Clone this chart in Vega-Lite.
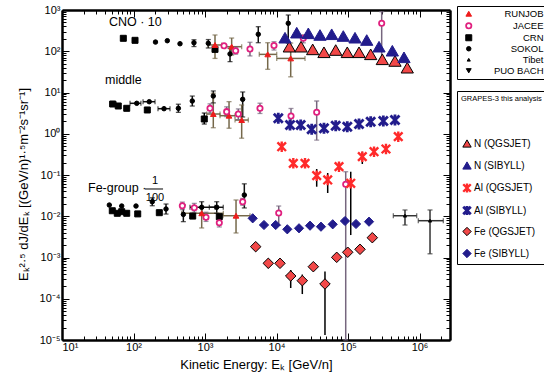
{
  "$schema": "https://vega.github.io/schema/vega-lite/v6.json",
  "width": 388,
  "height": 330,
  "autosize": {"type": "none"},
  "padding": {"left": 62, "top": 10, "right": 94, "bottom": 37},
  "background": "white",
  "config": {
    "view": {"stroke": null},
    "axis": {
      "grid": false,
      "domainColor": "black",
      "domainWidth": 2.5,
      "tickColor": "black",
      "tickWidth": 1,
      "labelColor": "black",
      "labelFont": "Liberation Sans",
      "labelFontSize": 11,
      "labelOverlap": false,
      "titleFont": "Liberation Sans",
      "titleFontWeight": "normal",
      "titleColor": "black",
      "titleFontSize": 13
    },
    "legend": {
      "labelFont": "Liberation Sans",
      "labelColor": "black",
      "titleFont": "Liberation Sans",
      "titleColor": "black",
      "titleFontWeight": "normal",
      "strokeColor": "black",
      "fillColor": "white"
    }
  },
  "datasets": {
    "pts": [
      {"src": "CRN", "kind": "lit", "x": 72, "y": 206},
      {"src": "CRN", "kind": "lit", "x": 105, "y": 184},
      {"src": "CRN", "kind": "lit", "x": 1380, "y": 111},
      {"src": "SOKOL", "kind": "lit", "x": 203, "y": 167},
      {"src": "SOKOL", "kind": "lit", "x": 297, "y": 180},
      {"src": "SOKOL", "kind": "lit", "x": 447, "y": 152},
      {"src": "SOKOL", "kind": "lit", "x": 701, "y": 161, "ylo": 130, "yhi": 190},
      {"src": "SOKOL", "kind": "lit", "x": 1112, "y": 156, "ylo": 120, "yhi": 192},
      {"src": "SOKOL", "kind": "lit", "x": 2239, "y": 86, "ylo": 56, "yhi": 118},
      {"src": "SOKOL", "kind": "lit", "x": 5560, "y": 258, "ylo": 161, "yhi": 394},
      {"src": "SOKOL", "kind": "lit", "x": 14600, "y": 476, "ylo": 158, "yhi": 757},
      {"src": "RUNJOB", "kind": "lit", "x": 1380, "y": 142, "ylo": 67, "yhi": 248, "xlo": 1101, "xhi": 1714},
      {"src": "RUNJOB", "kind": "lit", "x": 2360, "y": 129, "ylo": 81, "yhi": 209, "xlo": 1905, "xhi": 3258},
      {"src": "RUNJOB", "kind": "lit", "x": 7534, "y": 84, "ylo": 36.5, "yhi": 161, "xlo": 5741, "xhi": 10070},
      {"src": "RUNJOB", "kind": "lit", "x": 15800, "y": 67, "ylo": 24, "yhi": 158, "xlo": 10070, "xhi": 25060},
      {"src": "JACEE", "kind": "lit", "x": 1845, "y": 136},
      {"src": "JACEE", "kind": "lit", "x": 2685, "y": 103, "ylo": 85, "yhi": 125},
      {"src": "JACEE", "kind": "lit", "x": 4256, "y": 113, "ylo": 77, "yhi": 165},
      {"src": "JACEE", "kind": "lit", "x": 9226, "y": 138, "ylo": 107, "yhi": 170},
      {"src": "JACEE", "kind": "lit", "x": 23700, "y": 206, "ylo": 160, "yhi": 250},
      {"src": "JACEE", "kind": "lit", "x": 295800, "y": 476, "ylo": 56, "yhi": 910},

      {"src": "CRN", "kind": "lit", "x": 51.2, "y": 5.26, "xlo": 46.9, "xhi": 56.9},
      {"src": "CRN", "kind": "lit", "x": 61.2, "y": 4.71},
      {"src": "CRN", "kind": "lit", "x": 80.4, "y": 4.14},
      {"src": "CRN", "kind": "lit", "x": 156, "y": 3.77},
      {"src": "CRN", "kind": "lit", "x": 977, "y": 2.28, "ylo": 1.72, "yhi": 3.18},
      {"src": "SOKOL", "kind": "lit", "x": 111, "y": 5.47, "xlo": 89.4, "xhi": 127},
      {"src": "SOKOL", "kind": "lit", "x": 166, "y": 5.98, "xlo": 136, "xhi": 200},
      {"src": "SOKOL", "kind": "lit", "x": 267, "y": 4.05, "xlo": 220, "xhi": 324},
      {"src": "SOKOL", "kind": "lit", "x": 424, "y": 4.14, "ylo": 3.3, "yhi": 5.2},
      {"src": "SOKOL", "kind": "lit", "x": 664, "y": 6.22, "ylo": 4.7, "yhi": 8.2},
      {"src": "SOKOL", "kind": "lit", "x": 1306, "y": 8.22, "ylo": 5.6, "yhi": 10.9},
      {"src": "SOKOL", "kind": "lit", "x": 3365, "y": 6.84, "ylo": 2.55, "yhi": 10.3},
      {"src": "RUNJOB", "kind": "lit", "x": 1306, "y": 3.01, "ylo": 1.4, "yhi": 9.6, "xlo": 1057, "xhi": 1622},
      {"src": "RUNJOB", "kind": "lit", "x": 2168, "y": 2.74, "ylo": 1.36, "yhi": 6.0, "xlo": 1622, "xhi": 2630},
      {"src": "RUNJOB", "kind": "lit", "x": 3258, "y": 2.15, "ylo": 0.78, "yhi": 4.98, "xlo": 2630, "xhi": 4036},
      {"src": "JACEE", "kind": "lit", "x": 1175, "y": 4.14, "ylo": 3.2, "yhi": 5.3},
      {"src": "JACEE", "kind": "lit", "x": 2009, "y": 3.43, "ylo": 2.6, "yhi": 4.5},
      {"src": "JACEE", "kind": "lit", "x": 2924, "y": 3.01, "ylo": 2.2, "yhi": 4.0},
      {"src": "JACEE", "kind": "lit", "x": 5875, "y": 4.14, "ylo": 3.1, "yhi": 5.5},
      {"src": "JACEE", "kind": "lit", "x": 15960, "y": 2.69, "ylo": 1.9, "yhi": 4.1},
      {"src": "JACEE", "kind": "lit", "x": 36480, "y": 3.31, "ylo": 0.7, "yhi": 6.22},
      {"src": "JACEE", "kind": "lit", "x": 92900, "y": 0.0596, "ylo": 0.00001, "yhi": 0.12},

      {"src": "SOKOL", "kind": "lit", "x": 45.9, "y": 0.0187},
      {"src": "SOKOL", "kind": "lit", "x": 68.4, "y": 0.0177},
      {"src": "SOKOL", "kind": "lit", "x": 108.4, "y": 0.0177},
      {"src": "SOKOL", "kind": "lit", "x": 183, "y": 0.0225, "ylo": 0.018, "yhi": 0.028},
      {"src": "SOKOL", "kind": "lit", "x": 285, "y": 0.015, "ylo": 0.0113, "yhi": 0.0198},
      {"src": "SOKOL", "kind": "lit", "x": 498, "y": 0.0111, "ylo": 0.0074, "yhi": 0.0187},
      {"src": "SOKOL", "kind": "lit", "x": 899, "y": 0.0165, "ylo": 0.0118, "yhi": 0.0225, "xlo": 617, "xhi": 1380},
      {"src": "SOKOL", "kind": "lit", "x": 1459, "y": 0.0165, "ylo": 0.0118, "yhi": 0.0225, "xlo": 1150, "xhi": 1800},
      {"src": "SOKOL", "kind": "lit", "x": 3548, "y": 0.0327, "ylo": 0.0159, "yhi": 0.0611},
      {"src": "CRN", "kind": "lit", "x": 50.5, "y": 0.0136},
      {"src": "CRN", "kind": "lit", "x": 59.3, "y": 0.0118},
      {"src": "CRN", "kind": "lit", "x": 68.4, "y": 0.0129},
      {"src": "CRN", "kind": "lit", "x": 80.4, "y": 0.0118},
      {"src": "CRN", "kind": "lit", "x": 114.6, "y": 0.0114},
      {"src": "CRN", "kind": "lit", "x": 229.6, "y": 0.0122},
      {"src": "CRN", "kind": "lit", "x": 673, "y": 0.0101},
      {"src": "CRN", "kind": "lit", "x": 1585, "y": 0.00975},
      {"src": "JACEE", "kind": "lit", "x": 482, "y": 0.018, "ylo": 0.0145, "yhi": 0.022},
      {"src": "JACEE", "kind": "lit", "x": 708, "y": 0.0161, "ylo": 0.0125, "yhi": 0.0205},
      {"src": "JACEE", "kind": "lit", "x": 1033, "y": 0.00944, "ylo": 0.0075, "yhi": 0.0125},
      {"src": "JACEE", "kind": "lit", "x": 1585, "y": 0.00698, "ylo": 0.0055, "yhi": 0.0088},
      {"src": "JACEE", "kind": "lit", "x": 3365, "y": 0.0225, "ylo": 0.0185, "yhi": 0.027},
      {"src": "JACEE", "kind": "lit", "x": 10740, "y": 0.012, "ylo": 0.00603, "yhi": 0.0177},
      {"src": "RUNJOB", "kind": "lit", "x": 899, "y": 0.0118, "ylo": 0.0052, "yhi": 0.0167, "xlo": 472, "xhi": 1804},
      {"src": "RUNJOB", "kind": "lit", "x": 2716, "y": 0.0103, "ylo": 0.00393, "yhi": 0.0248, "xlo": 1786, "xhi": 4256},
      {"src": "Tibet", "kind": "lit", "x": 626600, "y": 0.0103, "ylo": 0.00613, "yhi": 0.0142, "xlo": 430500, "xhi": 914100},
      {"src": "Tibet", "kind": "lit", "x": 1403000, "y": 0.0078, "ylo": 0.00123, "yhi": 0.0142, "xlo": 961600, "xhi": 2153000},

      {"src": "N (QGSJET)", "kind": "g3", "x": 15100, "y": 129},
      {"src": "N (QGSJET)", "kind": "g3", "x": 22030, "y": 129},
      {"src": "N (QGSJET)", "kind": "g3", "x": 32060, "y": 111},
      {"src": "N (QGSJET)", "kind": "g3", "x": 46130, "y": 94.4},
      {"src": "N (QGSJET)", "kind": "g3", "x": 67300, "y": 107},
      {"src": "N (QGSJET)", "kind": "g3", "x": 97700, "y": 94.4},
      {"src": "N (QGSJET)", "kind": "g3", "x": 142600, "y": 94.4},
      {"src": "N (QGSJET)", "kind": "g3", "x": 207600, "y": 84.3},
      {"src": "N (QGSJET)", "kind": "g3", "x": 302000, "y": 63.8},
      {"src": "N (QGSJET)", "kind": "g3", "x": 454000, "y": 58.1},
      {"src": "N (QGSJET)", "kind": "g3", "x": 674500, "y": 39.9, "ylo": 31.4, "yhi": 39.9},
      {"src": "N (SIBYLL)", "kind": "g3", "x": 13150, "y": 213},
      {"src": "N (SIBYLL)", "kind": "g3", "x": 19190, "y": 282},
      {"src": "N (SIBYLL)", "kind": "g3", "x": 27860, "y": 272},
      {"src": "N (SIBYLL)", "kind": "g3", "x": 40550, "y": 248},
      {"src": "N (SIBYLL)", "kind": "g3", "x": 59160, "y": 258},
      {"src": "N (SIBYLL)", "kind": "g3", "x": 85900, "y": 234},
      {"src": "N (SIBYLL)", "kind": "g3", "x": 125300, "y": 213},
      {"src": "N (SIBYLL)", "kind": "g3", "x": 182800, "y": 187},
      {"src": "N (SIBYLL)", "kind": "g3", "x": 271600, "y": 129},
      {"src": "N (SIBYLL)", "kind": "g3", "x": 416900, "y": 103},
      {"src": "N (SIBYLL)", "kind": "g3", "x": 606700, "y": 71.3},
      {"src": "Al (SIBYLL)", "kind": "g3", "x": 10590, "y": 2.37},
      {"src": "Al (SIBYLL)", "kind": "g3", "x": 15450, "y": 1.63},
      {"src": "Al (SIBYLL)", "kind": "g3", "x": 21780, "y": 1.63},
      {"src": "Al (SIBYLL)", "kind": "g3", "x": 31050, "y": 1.28},
      {"src": "Al (SIBYLL)", "kind": "g3", "x": 46130, "y": 1.36},
      {"src": "Al (SIBYLL)", "kind": "g3", "x": 67300, "y": 1.57},
      {"src": "Al (SIBYLL)", "kind": "g3", "x": 97700, "y": 1.48},
      {"src": "Al (SIBYLL)", "kind": "g3", "x": 142600, "y": 1.72},
      {"src": "Al (SIBYLL)", "kind": "g3", "x": 207600, "y": 1.96},
      {"src": "Al (SIBYLL)", "kind": "g3", "x": 311900, "y": 2.04},
      {"src": "Al (SIBYLL)", "kind": "g3", "x": 454000, "y": 2.15},
      {"src": "Al (QGSJET)", "kind": "g3", "x": 11830, "y": 0.485},
      {"src": "Al (QGSJET)", "kind": "g3", "x": 17180, "y": 0.192},
      {"src": "Al (QGSJET)", "kind": "g3", "x": 25060, "y": 0.192},
      {"src": "Al (QGSJET)", "kind": "g3", "x": 36480, "y": 0.0962, "ylo": 0.052, "yhi": 0.14},
      {"src": "Al (QGSJET)", "kind": "g3", "x": 52000, "y": 0.0757, "ylo": 0.0366, "yhi": 0.112},
      {"src": "Al (QGSJET)", "kind": "g3", "x": 74820, "y": 0.159, "ylo": 0.13, "yhi": 0.2},
      {"src": "Al (QGSJET)", "kind": "g3", "x": 109200, "y": 0.063, "ylo": 0.0035, "yhi": 0.12},
      {"src": "Al (QGSJET)", "kind": "g3", "x": 158500, "y": 0.278, "ylo": 0.185, "yhi": 0.367},
      {"src": "Al (QGSJET)", "kind": "g3", "x": 231200, "y": 0.367},
      {"src": "Al (QGSJET)", "kind": "g3", "x": 339600, "y": 0.427},
      {"src": "Al (QGSJET)", "kind": "g3", "x": 504700, "y": 0.849},
      {"src": "Fe (SIBYLL)", "kind": "g3", "x": 4645, "y": 0.00891},
      {"src": "Fe (SIBYLL)", "kind": "g3", "x": 6683, "y": 0.00614},
      {"src": "Fe (SIBYLL)", "kind": "g3", "x": 9750, "y": 0.00614},
      {"src": "Fe (SIBYLL)", "kind": "g3", "x": 14160, "y": 0.00483},
      {"src": "Fe (SIBYLL)", "kind": "g3", "x": 20650, "y": 0.00511},
      {"src": "Fe (SIBYLL)", "kind": "g3", "x": 29440, "y": 0.0059},
      {"src": "Fe (SIBYLL)", "kind": "g3", "x": 41880, "y": 0.00558},
      {"src": "Fe (SIBYLL)", "kind": "g3", "x": 61100, "y": 0.00638},
      {"src": "Fe (SIBYLL)", "kind": "g3", "x": 90780, "y": 0.00767},
      {"src": "Fe (SIBYLL)", "kind": "g3", "x": 129400, "y": 0.00649},
      {"src": "Fe (SIBYLL)", "kind": "g3", "x": 196800, "y": 0.00738},
      {"src": "Fe (QGSJET)", "kind": "g3", "x": 5117, "y": 0.00183},
      {"src": "Fe (QGSJET)", "kind": "g3", "x": 7674, "y": 0.000723, "ylo": 0.00055, "yhi": 0.000723},
      {"src": "Fe (QGSJET)", "kind": "g3", "x": 11190, "y": 0.000723},
      {"src": "Fe (QGSJET)", "kind": "g3", "x": 15800, "y": 0.000356, "ylo": 0.000182, "yhi": 0.000498},
      {"src": "Fe (QGSJET)", "kind": "g3", "x": 22960, "y": 0.000274, "ylo": 0.00013, "yhi": 0.000387},
      {"src": "Fe (QGSJET)", "kind": "g3", "x": 32730, "y": 0.000598},
      {"src": "Fe (QGSJET)", "kind": "g3", "x": 47640, "y": 0.000228, "ylo": 0.0000132, "yhi": 0.00046},
      {"src": "Fe (QGSJET)", "kind": "g3", "x": 69500, "y": 0.00101, "ylo": 0.0008, "yhi": 0.00101},
      {"src": "Fe (QGSJET)", "kind": "g3", "x": 99100, "y": 0.00134},
      {"src": "Fe (QGSJET)", "kind": "g3", "x": 147200, "y": 0.00158},
      {"src": "Fe (QGSJET)", "kind": "g3", "x": 218800, "y": 0.00302}
    ],
    "annL": [
      {"t": "CNO · 10", "x": 45.4, "y": 520},
      {"t": "middle", "x": 39.9, "y": 20.1},
      {"t": "Fe-group ·", "x": 23.1, "y": 0.0492}
    ],
    "annC": [
      {"t": "1", "x": 200, "y": 0.0716},
      {"t": "100", "x": 200, "y": 0.0277}
    ],
    "frac": [
      {"x": 145, "x2": 259, "y": 0.0458}
    ]
  },
  "layer": [
    {
      "data": {"name": "pts"},
      "transform": [{"filter": "isValid(datum.ylo)"}],
      "mark": {"type": "rule", "strokeWidth": 1.5},
      "encoding": {
        "x": {
          "field": "x", "type": "quantitative",
          "scale": {"type": "log", "domain": [10, 2670000], "nice": false},
          "axis": {
            "orient": "bottom",
            "title": "Kinetic Energy: Eₖ [GeV/n]",
            "titlePadding": 3,
            "values": [10,20,30,40,50,60,70,80,90,100,200,300,400,500,600,700,800,900,1000,2000,3000,4000,5000,6000,7000,8000,9000,10000,20000,30000,40000,50000,60000,70000,80000,90000,100000,200000,300000,400000,500000,600000,700000,800000,900000,1000000,2000000],
            "labelExpr": "abs(log(datum.value)/LN10 - round(log(datum.value)/LN10)) < 0.01 ? '10' + ['⁻⁵','⁻⁴','⁻³','⁻²','⁻¹','⁰','¹','²','³','⁴','⁵','⁶'][round(log(datum.value)/LN10)+5] : ''",
            "tickSize": {"condition": {"test": "abs(log(datum.value)/LN10 - round(log(datum.value)/LN10)) < 0.01", "value": -7}, "value": -4},
            "labelPadding": 8
          }
        },
        "y": {
          "field": "ylo", "type": "quantitative",
          "scale": {"type": "log", "domain": [0.00001, 1000], "nice": false},
          "axis": {
            "orient": "left",
            "title": "Eₖ²·⁵ dJ/dEₖ [(GeV/n)¹·⁵m⁻²s⁻¹sr⁻¹]",
            "titleY": 174,
            "titleX": -32,
            "titleAlign": "center",
            "values": [0.00001,0.00002,0.00003,0.00004,0.00005,0.00006,0.00007,0.00008,0.00009,0.0001,0.0002,0.0003,0.0004,0.0005,0.0006,0.0007,0.0008,0.0009,0.001,0.002,0.003,0.004,0.005,0.006,0.007,0.008,0.009,0.01,0.02,0.03,0.04,0.05,0.06,0.07,0.08,0.09,0.1,0.2,0.3,0.4,0.5,0.6,0.7,0.8,0.9,1,2,3,4,5,6,7,8,9,10,20,30,40,50,60,70,80,90,100,200,300,400,500,600,700,800,900,1000],
            "labelExpr": "abs(log(datum.value)/LN10 - round(log(datum.value)/LN10)) < 0.01 ? '10' + ['⁻⁵','⁻⁴','⁻³','⁻²','⁻¹','⁰','¹','²','³','⁴','⁵','⁶'][round(log(datum.value)/LN10)+5] : ''",
            "tickSize": {"condition": {"test": "abs(log(datum.value)/LN10 - round(log(datum.value)/LN10)) < 0.01", "value": -7}, "value": -4},
            "labelPadding": 9
          }
        },
        "y2": {"field": "yhi"},
        "color": {
          "field": "src", "type": "nominal", "legend": null,
          "scale": {
            "domain": ["RUNJOB","JACEE","CRN","SOKOL","Tibet","PUO BACH","N (QGSJET)","N (SIBYLL)","Al (QGSJET)","Al (SIBYLL)","Fe (QGSJET)","Fe (SIBYLL)"],
            "range": ["#75684a","#76667e","#000000","#111111","#333333","#000000","#000000","#000000","#000000","#000000","#000000","#000000"]
          }
        }
      }
    },
    {
      "data": {"name": "pts"},
      "transform": [{"filter": "isValid(datum.xlo)"}],
      "mark": {"type": "rule", "strokeWidth": 1.5},
      "encoding": {
        "x": {
          "field": "xlo", "type": "quantitative",
          "scale": {"type": "log", "domain": [10, 2670000], "nice": false},
          "axis": {
            "orient": "top", "labels": false, "title": null,
            "values": [10,20,30,40,50,60,70,80,90,100,200,300,400,500,600,700,800,900,1000,2000,3000,4000,5000,6000,7000,8000,9000,10000,20000,30000,40000,50000,60000,70000,80000,90000,100000,200000,300000,400000,500000,600000,700000,800000,900000,1000000,2000000],
            "tickSize": {"condition": {"test": "abs(log(datum.value)/LN10 - round(log(datum.value)/LN10)) < 0.01", "value": -7}, "value": -4}
          }
        },
        "x2": {"field": "xhi"},
        "y": {
          "field": "y", "type": "quantitative",
          "scale": {"type": "log", "domain": [0.00001, 1000], "nice": false},
          "axis": {
            "orient": "right", "labels": false, "title": null,
            "values": [0.00001,0.00002,0.00003,0.00004,0.00005,0.00006,0.00007,0.00008,0.00009,0.0001,0.0002,0.0003,0.0004,0.0005,0.0006,0.0007,0.0008,0.0009,0.001,0.002,0.003,0.004,0.005,0.006,0.007,0.008,0.009,0.01,0.02,0.03,0.04,0.05,0.06,0.07,0.08,0.09,0.1,0.2,0.3,0.4,0.5,0.6,0.7,0.8,0.9,1,2,3,4,5,6,7,8,9,10,20,30,40,50,60,70,80,90,100,200,300,400,500,600,700,800,900,1000],
            "tickSize": {"condition": {"test": "abs(log(datum.value)/LN10 - round(log(datum.value)/LN10)) < 0.01", "value": -7}, "value": -4}
          }
        },
        "color": {
          "field": "src", "type": "nominal", "legend": null,
          "scale": {
            "domain": ["RUNJOB","JACEE","CRN","SOKOL","Tibet","PUO BACH","N (QGSJET)","N (SIBYLL)","Al (QGSJET)","Al (SIBYLL)","Fe (QGSJET)","Fe (SIBYLL)"],
            "range": ["#75684a","#76667e","#000000","#111111","#333333","#000000","#000000","#000000","#000000","#000000","#000000","#000000"]
          }
        }
      }
    },
    {
      "data": {"name": "pts"},
      "transform": [{"filter": "isValid(datum.ylo) && datum.kind == 'lit'"}],
      "mark": {"type": "tick", "orient": "horizontal", "size": 5, "thickness": 1.3},
      "encoding": {
        "x": {"field": "x", "type": "quantitative", "scale": {"type": "log", "domain": [10, 2670000], "nice": false}, "axis": null},
        "y": {"field": "ylo", "type": "quantitative", "scale": {"type": "log", "domain": [0.00001, 1000], "nice": false}, "axis": null},
        "color": {
          "field": "src", "type": "nominal", "legend": null,
          "scale": {"domain": ["RUNJOB","JACEE","CRN","SOKOL","Tibet","PUO BACH","x1"], "range": ["#75684a","#76667e","#000000","#111111","#333333","#000000","#000000"]}
        }
      }
    },
    {
      "data": {"name": "pts"},
      "transform": [{"filter": "isValid(datum.yhi) && datum.kind == 'lit'"}],
      "mark": {"type": "tick", "orient": "horizontal", "size": 5, "thickness": 1.3},
      "encoding": {
        "x": {"field": "x", "type": "quantitative", "scale": {"type": "log", "domain": [10, 2670000], "nice": false}, "axis": null},
        "y": {"field": "yhi", "type": "quantitative", "scale": {"type": "log", "domain": [0.00001, 1000], "nice": false}, "axis": null},
        "color": {
          "field": "src", "type": "nominal", "legend": null,
          "scale": {"domain": ["RUNJOB","JACEE","CRN","SOKOL","Tibet","PUO BACH","x1"], "range": ["#75684a","#76667e","#000000","#111111","#333333","#000000","#000000"]}
        }
      }
    },
    {
      "data": {"name": "pts"},
      "transform": [{"filter": "isValid(datum.xlo) && datum.kind == 'lit'"}],
      "mark": {"type": "tick", "orient": "vertical", "size": 5, "thickness": 1.3},
      "encoding": {
        "x": {"field": "xlo", "type": "quantitative", "scale": {"type": "log", "domain": [10, 2670000], "nice": false}, "axis": null},
        "y": {"field": "y", "type": "quantitative", "scale": {"type": "log", "domain": [0.00001, 1000], "nice": false}, "axis": null},
        "color": {
          "field": "src", "type": "nominal", "legend": null,
          "scale": {"domain": ["RUNJOB","JACEE","CRN","SOKOL","Tibet","PUO BACH","x1"], "range": ["#75684a","#76667e","#000000","#111111","#333333","#000000","#000000"]}
        }
      }
    },
    {
      "data": {"name": "pts"},
      "transform": [{"filter": "isValid(datum.xhi) && datum.kind == 'lit'"}],
      "mark": {"type": "tick", "orient": "vertical", "size": 5, "thickness": 1.3},
      "encoding": {
        "x": {"field": "xhi", "type": "quantitative", "scale": {"type": "log", "domain": [10, 2670000], "nice": false}, "axis": null},
        "y": {"field": "y", "type": "quantitative", "scale": {"type": "log", "domain": [0.00001, 1000], "nice": false}, "axis": null},
        "color": {
          "field": "src", "type": "nominal", "legend": null,
          "scale": {"domain": ["RUNJOB","JACEE","CRN","SOKOL","Tibet","PUO BACH","x1"], "range": ["#75684a","#76667e","#000000","#111111","#333333","#000000","#000000"]}
        }
      }
    },
    {
      "data": {"name": "pts"},
      "transform": [{"filter": "datum.kind == 'lit'"}],
      "mark": {"type": "point", "opacity": 1},
      "encoding": {
        "x": {"field": "x", "type": "quantitative", "scale": {"type": "log", "domain": [10, 2670000], "nice": false}, "axis": null},
        "y": {"field": "y", "type": "quantitative", "scale": {"type": "log", "domain": [0.00001, 1000], "nice": false}, "axis": null},
        "shape": {
          "field": "src", "type": "nominal",
          "scale": {"domain": ["RUNJOB","JACEE","CRN","SOKOL","Tibet","PUO BACH"], "range": ["triangle-up","circle","square","circle","triangle-up","triangle-down"]},
          "legend": {"title": null, "orient": "none", "legendX": 395, "legendY": -4, "labelAlign": "right", "labelOffset": 70, "symbolOffset": 4, "labelFontSize": 9.5, "rowPadding": 0, "padding": 3}
        },
        "fill": {
          "field": "src", "type": "nominal",
          "scale": {"domain": ["RUNJOB","JACEE","CRN","SOKOL","Tibet","PUO BACH"], "range": ["#ee1c1c","#ffffff","#000000","#000000","#000000","#000000"]},
          "legend": {"title": null, "orient": "none", "legendX": 395, "legendY": -4, "labelAlign": "right", "labelOffset": 70, "symbolOffset": 4, "labelFontSize": 9.5, "rowPadding": 0, "padding": 3}
        },
        "stroke": {
          "field": "src", "type": "nominal",
          "scale": {"domain": ["RUNJOB","JACEE","CRN","SOKOL","Tibet","PUO BACH"], "range": ["#ee1c1c","#e0207f","#000000","#000000","#000000","#000000"]},
          "legend": {"title": null, "orient": "none", "legendX": 395, "legendY": -4, "labelAlign": "right", "labelOffset": 70, "symbolOffset": 4, "labelFontSize": 9.5, "rowPadding": 0, "padding": 3}
        },
        "strokeWidth": {
          "field": "src", "type": "nominal",
          "scale": {"type": "ordinal", "domain": ["RUNJOB","JACEE","CRN","SOKOL","Tibet","PUO BACH"], "range": [1, 1.8, 1, 1, 1, 1]},
          "legend": {"title": null, "orient": "none", "legendX": 395, "legendY": -4, "labelAlign": "right", "labelOffset": 70, "symbolOffset": 4, "labelFontSize": 9.5, "rowPadding": 0, "padding": 3}
        },
        "size": {
          "field": "src", "type": "nominal",
          "scale": {"type": "ordinal", "domain": ["RUNJOB","JACEE","CRN","SOKOL","Tibet","PUO BACH"], "range": [32, 28, 36, 20, 10, 24]},
          "legend": {"title": null, "orient": "none", "legendX": 395, "legendY": -4, "labelAlign": "right", "labelOffset": 70, "symbolOffset": 4, "labelFontSize": 9.5, "rowPadding": 0, "padding": 3}
        }
      }
    },
    {
      "data": {"name": "pts"},
      "transform": [{"filter": "datum.kind == 'g3'"}],
      "mark": {"type": "point", "opacity": 1},
      "encoding": {
        "x": {"field": "x", "type": "quantitative", "scale": {"type": "log", "domain": [10, 2670000], "nice": false}, "axis": null},
        "y": {"field": "y", "type": "quantitative", "scale": {"type": "log", "domain": [0.00001, 1000], "nice": false}, "axis": null},
        "shape": {
          "field": "src", "type": "nominal",
          "scale": {"domain": ["N (QGSJET)","N (SIBYLL)","Al (QGSJET)","Al (SIBYLL)","Fe (QGSJET)","Fe (SIBYLL)"], "range": ["triangle-up","triangle-up","M-0.9,-0.9L0.9,0.9M-0.9,0.9L0.9,-0.9M0,-1.1L0,1.1","M-0.9,-0.9L0.9,0.9M-0.9,0.9L0.9,-0.9M0,-1.1L0,1.1","diamond","diamond"]},
          "legend": {"title": "GRAPES-3 this analysis", "orient": "none", "legendX": 395, "legendY": 81, "labelAlign": "left", "labelOffset": 1, "labelFontSize": 10, "titleFontSize": 7.5, "titlePadding": 36, "rowPadding": 0, "gridAlign": "all", "padding": 4, "symbolSize": 70}
        },
        "fill": {
          "field": "src", "type": "nominal",
          "scale": {"domain": ["N (QGSJET)","N (SIBYLL)","Al (QGSJET)","Al (SIBYLL)","Fe (QGSJET)","Fe (SIBYLL)"], "range": ["#f24848","#221c8c","transparent","transparent","#f24848","#221c8c"]},
          "legend": {"title": "GRAPES-3 this analysis", "orient": "none", "legendX": 395, "legendY": 81, "labelAlign": "left", "labelOffset": 1, "labelFontSize": 10, "titleFontSize": 7.5, "titlePadding": 36, "rowPadding": 0, "gridAlign": "all", "padding": 4, "symbolSize": 70}
        },
        "stroke": {
          "field": "src", "type": "nominal",
          "scale": {"domain": ["N (QGSJET)","N (SIBYLL)","Al (QGSJET)","Al (SIBYLL)","Fe (QGSJET)","Fe (SIBYLL)"], "range": ["#000000","#221c8c","#ff2a2a","#221c8c","#000000","#221c8c"]},
          "legend": {"title": "GRAPES-3 this analysis", "orient": "none", "legendX": 395, "legendY": 81, "labelAlign": "left", "labelOffset": 1, "labelFontSize": 10, "titleFontSize": 7.5, "titlePadding": 36, "rowPadding": 0, "gridAlign": "all", "padding": 4, "symbolSize": 70}
        },
        "strokeWidth": {
          "field": "src", "type": "nominal",
          "scale": {"type": "ordinal", "domain": ["N (QGSJET)","N (SIBYLL)","Al (QGSJET)","Al (SIBYLL)","Fe (QGSJET)","Fe (SIBYLL)"], "range": [1, 1, 2.4, 2.8, 1, 1]},
          "legend": {"title": "GRAPES-3 this analysis", "orient": "none", "legendX": 395, "legendY": 81, "labelAlign": "left", "labelOffset": 1, "labelFontSize": 10, "titleFontSize": 7.5, "titlePadding": 36, "rowPadding": 0, "gridAlign": "all", "padding": 4, "symbolSize": 70}
        },
        "size": {
          "field": "src", "type": "nominal", "legend": null,
          "scale": {"type": "ordinal", "domain": ["N (QGSJET)","N (SIBYLL)","Al (QGSJET)","Al (SIBYLL)","Fe (QGSJET)","Fe (SIBYLL)","x1"], "range": [150, 150, 90, 100, 110, 85, 50]}
        }
      }
    },
    {
      "data": {"name": "annL"},
      "mark": {"type": "text", "align": "left", "baseline": "middle", "font": "Liberation Sans", "fontSize": 12.5, "color": "black"},
      "encoding": {
        "x": {"field": "x", "type": "quantitative", "scale": {"type": "log", "domain": [10, 2670000], "nice": false}, "axis": null},
        "y": {"field": "y", "type": "quantitative", "scale": {"type": "log", "domain": [0.00001, 1000], "nice": false}, "axis": null},
        "text": {"field": "t"}
      }
    },
    {
      "data": {"name": "annC"},
      "mark": {"type": "text", "align": "center", "baseline": "middle", "font": "Liberation Sans", "fontSize": 11, "color": "black"},
      "encoding": {
        "x": {"field": "x", "type": "quantitative", "scale": {"type": "log", "domain": [10, 2670000], "nice": false}, "axis": null},
        "y": {"field": "y", "type": "quantitative", "scale": {"type": "log", "domain": [0.00001, 1000], "nice": false}, "axis": null},
        "text": {"field": "t"}
      }
    },
    {
      "data": {"name": "frac"},
      "mark": {"type": "rule", "color": "black", "strokeWidth": 1},
      "encoding": {
        "x": {"field": "x", "type": "quantitative", "scale": {"type": "log", "domain": [10, 2670000], "nice": false}, "axis": null},
        "x2": {"field": "x2"},
        "y": {"field": "y", "type": "quantitative", "scale": {"type": "log", "domain": [0.00001, 1000], "nice": false}, "axis": null}
      }
    }
  ],
  "resolve": {
    "scale": {"color": "independent", "shape": "independent", "fill": "independent", "stroke": "independent", "strokeWidth": "independent", "size": "independent"},
    "axis": {"x": "independent", "y": "independent"}
  }
}
